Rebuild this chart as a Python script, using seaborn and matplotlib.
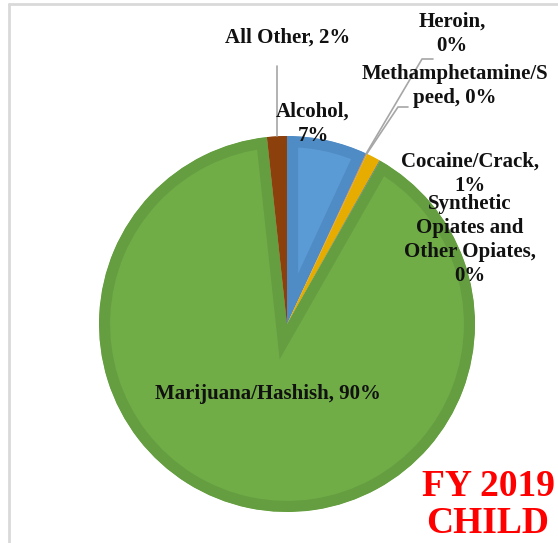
import matplotlib
matplotlib.use("Agg")
import matplotlib.pyplot as plt
from matplotlib.lines import Line2D
import seaborn as sns
import numpy as np

# ---- data ----
categories = ["Alcohol", "Heroin", "Methamphetamine/Speed", "Cocaine/Crack",
              "Synthetic Opiates and Other Opiates", "Marijuana/Hashish", "All Other"]
shares = [6.9, 0.05, 0.05, 1.2, 0.05, 90.05, 1.7]
label_texts = ["Alcohol,\n7%", "Heroin,\n0%", "Methamphetamine/S\npeed, 0%",
               "Cocaine/Crack,\n1%", "Synthetic\nOpiates and\nOther Opiates,\n0%",
               "Marijuana/Hashish, 90%", "All Other, 2%"]
fill_colors = ["#5B9BD5", "#ED7D31", "#A5A5A5", "#FFC000", "#4472C4", "#70AD47", "#9E480E"]
edge_colors = ["#4F8BC4", "#D56F2A", "#959595", "#E6AD00", "#3D66B0", "#659E40", "#8C400C"]
title_text = "FY 2019\nCHILD"

# ---- layout (pixels in a 558x543 canvas) ----
W, H = 558, 543
CX, CY, R = 287, 324, 188
label_pos = [(313, 124), (452, 34), (455, 86), (470, 174), (470, 240), (268, 394), (288, 38)]
leader = {1: (422, 59, 433), 2: (398, 107, 408), 6: (277, 66, 277)}

sns.set_theme(style="white")
plt.rcParams["font.family"] = ["Liberation Serif", "DejaVu Serif"]

fig = plt.figure(figsize=(W / 100, H / 100), dpi=100)
ax = fig.add_axes([(CX - R) / W, (H - CY - R) / H, 2 * R / W, 2 * R / H])

wedges, _ = ax.pie(shares, colors=fill_colors, startangle=90, counterclock=False,
                   radius=1, wedgeprops=dict(linewidth=16))
for w, ec in zip(wedges, edge_colors):
    w.set_edgecolor(ec)
    w.set_joinstyle("miter")
    w.set_clip_on(True)
    w.set_clip_path(w)
ax.set_xlim(-1, 1)
ax.set_ylim(-1, 1)
ax.axis("off")


def px2fig(px, py):
    return px / W, 1 - py / H


# labels
for i, txt in enumerate(label_texts):
    x, y = px2fig(*label_pos[i])
    fig.text(x, y, txt, ha="center", va="center", fontsize=15, fontweight="bold",
             color="#111111", linespacing=1.26)

# leader lines from wedge anchors (computed from data)
cum = np.cumsum([0] + shares[:-1])
total = sum(shares)
for i, (bx, by, ex) in leader.items():
    mid = (cum[i] + shares[i] / 2) / total * 360
    theta = np.deg2rad(90 - mid)
    ax_x = CX + R * np.cos(theta)
    ax_y = CY - R * np.sin(theta)
    if i == 6:
        xs = [ax_x, ax_x]
        ys = [ax_y, by]
    else:
        xs = [ax_x, bx, ex]
        ys = [ax_y, by, by]
    fx = [x / W for x in xs]
    fy = [1 - y / H for y in ys]
    fig.add_artist(Line2D(fx, fy, color="#A6A6A6", lw=1.2, transform=fig.transFigure))

# title
x, y = px2fig(488, 505)
fig.text(x, y, title_text, ha="center", va="center", fontsize=27, fontweight="bold",
         color="#FF0000", linespacing=1.05)

# chart frame (partial border)
fig.add_artist(Line2D([9 / W, 9 / W], [0, 1 - 4 / H], color="#D9D9D9", lw=2,
                      transform=fig.transFigure))
fig.add_artist(Line2D([9 / W, 1], [1 - 4 / H, 1 - 4 / H], color="#D9D9D9", lw=2,
                      transform=fig.transFigure))

fig.savefig("out.png", dpi=100)
